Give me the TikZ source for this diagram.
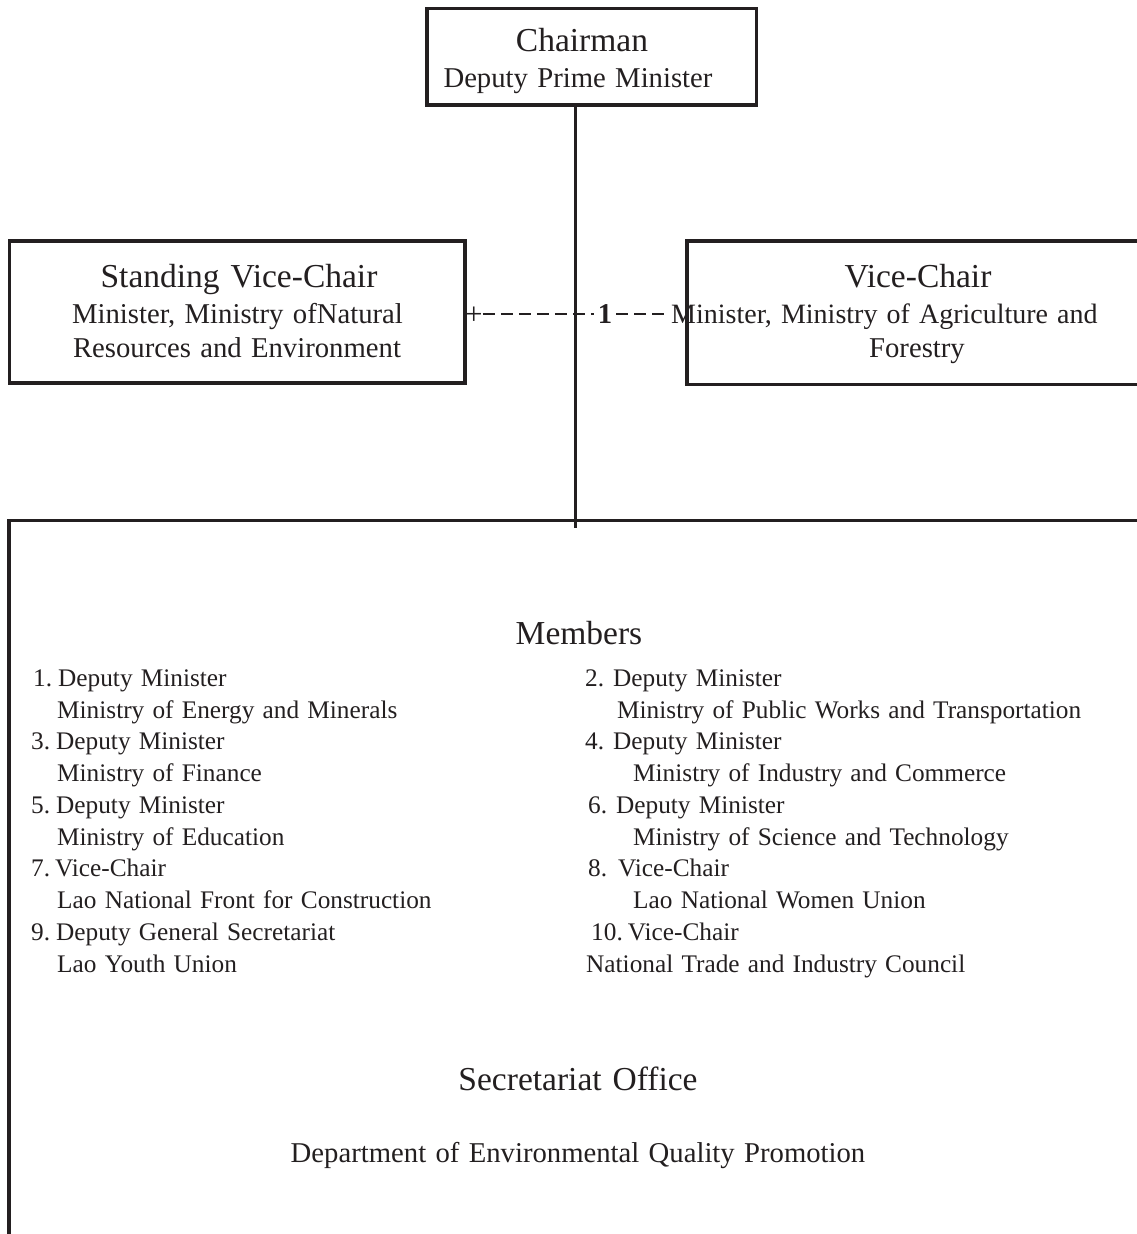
\documentclass[tikz,border=0pt]{standalone}
\usepackage{fontspec}
\setmainfont{Liberation Serif}[WordSpace=1.3]
\definecolor{ink}{RGB}{35,31,32}
\tikzset{
  box/.style={draw=ink, line width=3.5pt, rectangle, inner sep=0pt},
  big/.style={font=\fontsize{33.5}{38}\selectfont, text=ink, inner sep=0pt, anchor=base},
  mid/.style={font=\fontsize{28.7}{33}\selectfont, text=ink, inner sep=0pt, anchor=base},
  item/.style={font=\fontsize{25.3}{30}\selectfont, text=ink, inner sep=0pt, anchor=base west},
  conn/.style={draw=ink, line width=3pt},
  dashconn/.style={draw=ink, line width=2pt, dash pattern=on 12pt off 6pt}
}
\begin{document}
\begin{tikzpicture}[x=1pt,y=-1pt]
\useasboundingbox (0,0) rectangle (1137,1234);

% Chairman
\node[box, minimum width=329.5pt, minimum height=96.5pt] (chair) at (591.75,56.75) {};
\node[big] (chairT) at (582,51) {Chairman};
\node[mid] (chairS) at (578,87) {Deputy Prime Minister};

% Standing Vice-Chair
\node[box, minimum width=455.5pt, minimum height=142pt] (svc) at (237.25,312) {};
\node[big] (svcT) at (239,287) {Standing Vice-Chair};
\node[mid] (svcA) at (237.5,323) {Minister, Ministry ofNatural};
\node[mid] (svcB) at (237,357) {Resources and Environment};

% Vice-Chair
\node[box, minimum width=473pt, minimum height=143.5pt] (vc) at (923.5,312.75) {};
\node[big] (vcT) at (918,287) {Vice-Chair};
\node[mid, font=\fontsize{28}{33}\selectfont, anchor=base west] (vcA) at (671,323) {Minister, Ministry of Agriculture and};
\node[mid] (vcB) at (917,357) {Forestry};

% dashed link
\node[mid, font=\fontsize{31}{33}\selectfont, anchor=base west] (plus) at (465,324) {+};
\node[mid, anchor=base] (one) at (605,323) {\bfseries 1};
\draw[dashconn] (plus.east |- one.west) -- ([xshift=-4pt]one.west);
\draw[dashconn] ([xshift=4pt]one.east) -- ([xshift=-2pt]vcA.west |- one.east);

% spine and member frame
\coordinate (spineEnd) at (575,528);
\coordinate (mTL) at (9,520.5);
\coordinate (mBL) at (9,1240);
\coordinate (mTR) at (1145,520.5);
\draw[conn] (chair.south -| spineEnd) -- (spineEnd);
\draw[line width=3.5pt, draw=ink] (mBL) -- (mTL) -- (mTR);

% Members
\node[big] (mem) at (579,644) {Members};

\node[item] (l1a) at (33,686) {1.\hspace{6pt}Deputy Minister};
\node[item] (l1b) at (57,718) {Ministry of Energy and Minerals};
\node[item] (l3a) at (31,749) {3.\hspace{6pt}Deputy Minister};
\node[item] (l3b) at (57,781) {Ministry of Finance};
\node[item] (l5a) at (31,813) {5.\hspace{6pt}Deputy Minister};
\node[item] (l5b) at (57,845) {Ministry of Education};
\node[item] (l7a) at (31,876) {7.\hspace{5pt}Vice-Chair};
\node[item] (l7b) at (57,908) {Lao National Front for Construction};
\node[item] (l9a) at (31,940) {9.\hspace{6pt}Deputy General Secretariat};
\node[item] (l9b) at (57,972) {Lao Youth Union};

\node[item] (r2a) at (585,686) {2.\hspace{9pt}Deputy Minister};
\node[item] (r2b) at (617,718) {Ministry of Public Works and Transportation};
\node[item] (r4a) at (585,749) {4.\hspace{9pt}Deputy Minister};
\node[item] (r4b) at (633,781) {Ministry of Industry and Commerce};
\node[item] (r6a) at (588,813) {6.\hspace{9pt}Deputy Minister};
\node[item] (r6b) at (633,845) {Ministry of Science and Technology};
\node[item] (r8a) at (588,876) {8.\hspace{11pt}Vice-Chair};
\node[item] (r8b) at (633,908) {Lao National Women Union};
\node[item] (r10a) at (591,940) {10.\hspace{5pt}Vice-Chair};
\node[item] (r10b) at (586,972) {National Trade and Industry Council};

% Secretariat
\node[big] (sec) at (578,1090) {Secretariat Office};
\node[mid] (dept) at (578,1162) {Department of Environmental Quality Promotion};
\end{tikzpicture}
\end{document}
